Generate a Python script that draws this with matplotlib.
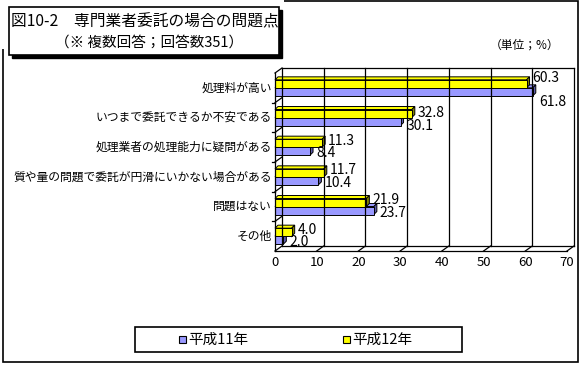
import matplotlib
matplotlib.use("Agg")
import matplotlib.pyplot as plt
from matplotlib.patches import Rectangle, Polygon

plt.rcParams['font.family'] = ['Noto Sans CJK JP', 'DejaVu Sans']

# ---- data ----
categories = ["処理料が高い", "いつまで委託できるか不安である", "処理業者の処理能力に疑問がある",
              "質や量の問題で委託が円滑にいかない場合がある", "問題はない", "その他"]
h11 = [61.8, 30.1, 8.4, 10.4, 23.7, 2.0]
h12 = [60.3, 32.8, 11.3, 11.7, 21.9, 4.0]
series_names = ["平成11年", "平成12年"]
xticks = [0, 10, 20, 30, 40, 50, 60, 70]
title1 = "図10-2　専門業者委託の場合の問題点"
title2 = "（※ 複数回答；回答数351）"
unit_label = "（単位；%）"

# label vertical nudges in px (style)
dy12 = [-6, -1, -2, -3, -3, -2]
dy11 = [10, 4, 2, 2, 2, 2]

W, H = 582, 367
fig = plt.figure(figsize=(W / 100, H / 100), dpi=100)
fig.patch.set_facecolor('white')

def fx(p): return p / W
def fy(p): return 1 - p / H

# outer frame
fig.add_artist(Rectangle((fx(3), fy(362)), fx(578) - fx(3), fy(1) - fy(362),
                         transform=fig.transFigure, fill=False, ec='black', lw=1.2))

# front plane axes
L, R, T, B = 275, 567, 73, 251
ax = fig.add_axes([fx(L), fy(B), (R - L) / W, (B - T) / H])
ax.set_xlim(0, 70)
ax.set_ylim(len(categories) - 0.5, -0.5)
ax.axis('off')

ux = 70 / (R - L)
uy = len(categories) / (B - T)
ddx, ddy = 7 * ux, 5 * uy
bdx, bdy = 3 * ux, 3 * uy
yb0, yt0 = len(categories) - 0.5, -0.5
xmax = 70

lk = dict(color='black', lw=0.9, clip_on=False)
# back wall + gridlines
for v in xticks:
    ax.plot([v + ddx, v + ddx], [yb0 - ddy, yt0 - ddy], **lk)
ax.plot([ddx, xmax + ddx], [yt0 - ddy, yt0 - ddy], **lk)
# floor
ax.plot([0, xmax], [yb0, yb0], **lk)
ax.plot([ddx, xmax + ddx], [yb0 - ddy, yb0 - ddy], **lk)
for v in xticks:
    ax.plot([v, v + ddx], [yb0, yb0 - ddy], **lk)
# left wall
ax.plot([0, 0], [yt0, yb0], **lk)
ax.plot([0, ddx], [yt0, yt0 - ddy], **lk)
for k in range(1, len(categories)):
    ax.plot([0, ddx], [k - 0.5, k - 0.5 - ddy], **lk)
    ax.plot([0, -3 * ux], [k - 0.5, k - 0.5], **lk)

h = 8 * uy
cols = {'b': ('#9999FF', '#9999FF', '#5a5aa8'), 'y': ('#FFFF00', '#FFFF00', '#808000')}

def bar3d(v, top, c):
    front, topc, side = c
    bot = top + h
    ax.add_patch(Polygon([(0, top), (v, top), (v + bdx, top - bdy), (bdx, top - bdy)],
                         closed=True, fc=topc, ec='black', lw=0.7, clip_on=False))
    ax.add_patch(Polygon([(v, top), (v, bot), (v + bdx, bot - bdy), (v + bdx, top - bdy)],
                         closed=True, fc=side, ec='black', lw=0.7, clip_on=False))
    ax.add_patch(Rectangle((0, top), v, h, fc=front, ec='black', lw=0.7, clip_on=False))

for i, cat in enumerate(categories):
    bar3d(h11[i], i, cols['b'])
    bar3d(h12[i], i - h, cols['y'])
    ax.text(h12[i] + bdx + 3 * ux, i - h / 2 + dy12[i] * uy, f"{h12[i]:.1f}",
            ha='left', va='center', fontsize=10, clip_on=False)
    ax.text(h11[i] + bdx + 3 * ux, i + h / 2 + dy11[i] * uy, f"{h11[i]:.1f}",
            ha='left', va='center', fontsize=10, clip_on=False)
    ax.text(-3 * ux, i, cat, ha='right', va='center', fontsize=8.5)

for v in xticks:
    ax.text(v, yb0 + 11 * uy, str(v), ha='center', va='center', fontsize=9.5)

# title box
fig.add_artist(Rectangle((0, fy(49)), fx(284), 1 - fy(49), transform=fig.transFigure,
                         fc='white', ec='none'))
fig.add_artist(Rectangle((fx(12), fy(58)), fx(279) - fx(9), fy(7) - fy(55),
                         transform=fig.transFigure, fc='black', ec='black', lw=1))
fig.add_artist(Rectangle((fx(9), fy(55)), fx(279) - fx(9), fy(7) - fy(55),
                         transform=fig.transFigure, fc='white', ec='black', lw=1.2))
fig.text(fx(11), fy(22), title1, ha='left', va='center', fontsize=11.3)
fig.text(fx(55), fy(43), title2, ha='left', va='center', fontsize=10.5)
fig.text(fx(559), fy(45), unit_label, ha='right', va='center', fontsize=8.5)

# legend
fig.add_artist(Rectangle((fx(135), fy(352)), fx(462) - fx(135), fy(327) - fy(352),
                         transform=fig.transFigure, fc='white', ec='black', lw=1.2))
for name, c, x0 in [(series_names[0], '#9999FF', 179), (series_names[1], '#FFFF00', 343)]:
    fig.add_artist(Rectangle((fx(x0), fy(343)), fx(7), fy(336) - fy(343),
                             transform=fig.transFigure, fc=c, ec='black', lw=0.8))
    fig.text(fx(x0 + 9), fy(339.5), name, ha='left', va='center', fontsize=10.5)

fig.savefig("out.png", dpi=100)
